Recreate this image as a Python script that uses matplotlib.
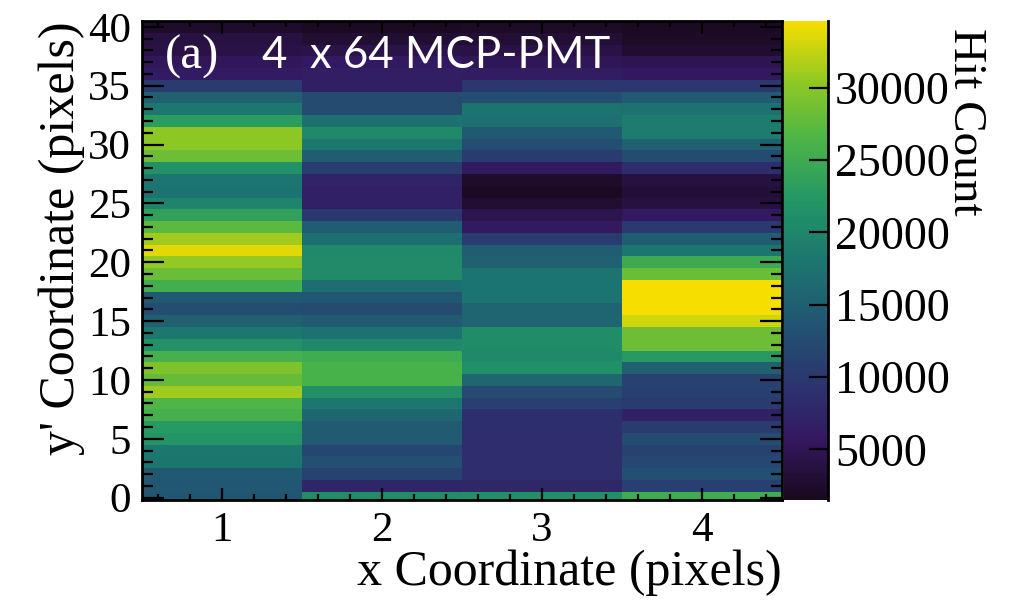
import numpy as np
import matplotlib
matplotlib.use("Agg")
import matplotlib.pyplot as plt
from matplotlib.colors import LinearSegmentedColormap
from matplotlib.ticker import MultipleLocator

# pixel columns (x) and rows (y, 0..40)
x_pixels = [1, 2, 3, 4]
y_rows = list(range(41))

# hit counts per column, row 0 first
col1 = [13900, 14000, 14200, 18000, 18200, 21800, 22600, 25700, 26500, 31000,
        28000, 29400, 25800, 21500, 18300, 15200, 12800, 14400, 25500, 28200,
        30500, 33600, 31000, 27300, 23500, 19800, 17600, 17800, 21500, 28300,
        30200, 30300, 23000, 18200, 15100, 10400, 6100, 5300, 4100, 3800, 2500]
col2 = [21000, 7500, 11300, 13000, 11800, 14500, 14500, 16000, 18300, 21200,
        26000, 26000, 25200, 20500, 17500, 14500, 12400, 14000, 16800, 20600,
        20600, 20500, 17000, 14600, 10000, 6800, 6800, 7200, 10500, 14700,
        18300, 20500, 17500, 12400, 12400, 6600, 6500, 5800, 4300, 2800, 2000]
col3 = [21200, 7800, 8600, 8600, 8600, 8600, 8700, 8800, 11000, 12400,
        16100, 21400, 20500, 21000, 21000, 15800, 15800, 17700, 17700, 17700,
        15200, 14800, 10300, 6000, 4500, 2800, 2000, 2300, 6000, 10400,
        12800, 14200, 17200, 17700, 12800, 10000, 6200, 5000, 4200, 3000, 2200]
col4 = [25200, 11000, 13000, 11900, 11300, 12500, 10300, 7000, 10300, 10900,
        11200, 15200, 22700, 28300, 28300, 33000, 34600, 34600, 34600, 28200,
        25000, 18000, 14800, 10200, 5800, 3700, 3200, 3800, 8600, 12600,
        15300, 18700, 18700, 17300, 14500, 10000, 5600, 4800, 2700, 2200, 2000]

zmin, zmax = 1500, 34600

# ROOT kViridis palette
root_viridis = [(26, 9, 30), (51, 24, 96), (43, 55, 112), (33, 87, 114),
                (28, 118, 112), (35, 150, 101), (74, 180, 72), (144, 200, 35),
                (246, 222, 0)]
cmap = LinearSegmentedColormap.from_list(
    "root_viridis", [tuple(c / 255 for c in rgb) for rgb in root_viridis])

plt.rcParams['font.family'] = ['Liberation Serif', 'DejaVu Serif']

fig = plt.figure(figsize=(10.09, 6.01), dpi=100)
W, H = 1009, 601
ax = fig.add_axes([142 / W, 1 - 500 / H, 640 / W, 479 / H])
cax = fig.add_axes([784 / W, 1 - 500 / H, 44 / W, 479 / H])

Z = np.array([col1, col2, col3, col4]).T
x_edges = np.append(np.array(x_pixels) - 0.5, x_pixels[-1] + 0.5)
y_edges = np.append(np.array(y_rows) - 0.5, y_rows[-1] + 0.5)
mesh = ax.pcolormesh(x_edges, y_edges, Z, cmap=cmap, vmin=zmin, vmax=zmax)

ax.set_xlim(0.5, 4.5)
ax.set_ylim(-0.2, 40.5)
ax.xaxis.set_major_locator(MultipleLocator(1))
ax.xaxis.set_minor_locator(MultipleLocator(0.2))
ax.yaxis.set_major_locator(MultipleLocator(5))
ax.yaxis.set_minor_locator(MultipleLocator(1))
ax.tick_params(axis='both', which='both', direction='in', top=True, right=True,
               labelsize=31, width=1.6, color='black')
ax.tick_params(axis='x', which='major', length=9, pad=8)
ax.tick_params(axis='x', which='minor', length=4.5)
ax.tick_params(axis='y', which='major', length=16, pad=8)
ax.tick_params(axis='y', which='minor', length=8)
for sp in ax.spines.values():
    sp.set_linewidth(2)

ax.set_xlabel('x Coordinate (pixels)', fontsize=36, loc='right', labelpad=0)
ax.set_ylabel("y' Coordinate (pixels)", fontsize=36, loc='top', labelpad=2)

ax.text(0.036, 0.925, '(a)', transform=ax.transAxes, color='white',
        fontsize=35, va='center', ha='left')
ax.text(0.187, 0.928, '4  x 64 MCP-PMT', transform=ax.transAxes, color='white',
        fontsize=31.5, va='center', ha='left', family='Lato')

cbar = fig.colorbar(mesh, cax=cax)
cbar.outline.set_visible(False)
cax.spines['right'].set_visible(True)
cax.spines['right'].set_linewidth(2)
cbar.set_ticks([5000, 10000, 15000, 20000, 25000, 30000])
cax.yaxis.set_ticks_position('right')
cax.tick_params(axis='y', direction='in', length=14, width=1.6, labelsize=33, pad=5)
cax.minorticks_off()

fig.text(965 / W, 1 - 28 / H, 'Hit Count', rotation=270, fontsize=34,
         va='top', ha='center')

fig.savefig('out.png', dpi=100)
